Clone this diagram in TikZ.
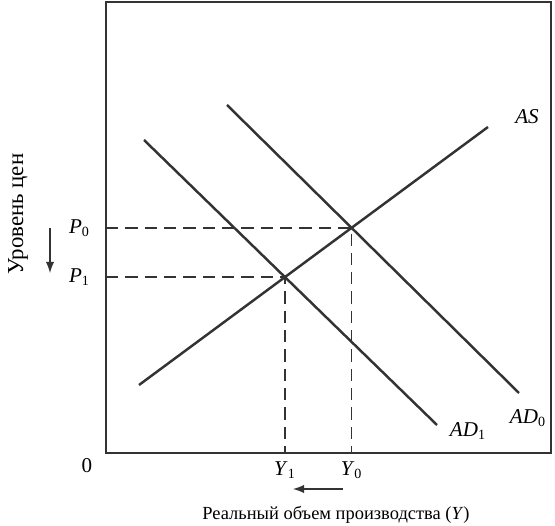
\documentclass[tikz,border=0pt]{standalone}
\usepackage{fontspec}
\setmainfont{Liberation Serif}
\begin{document}
\begin{tikzpicture}[x=0.02cm,y=-0.02cm]
\tikzset{curve/.style={line width=1.4pt, black!80},
  guide/.style={dash pattern=on 7pt off 4pt, line width=0.8pt, black!80},
  lbl/.style={font=\fontsize{12}{14}\selectfont}}
\useasboundingbox (0,0) rectangle (555,526);
% frame
\coordinate (O) at (106,453);
\coordinate (TR) at (551,2);
\draw[line width=0.8pt, black!80] (O) rectangle (TR);
% curves
\coordinate (as1) at (139,385);
\coordinate (as2) at (488,127);
\coordinate (ad01) at (227,105);
\coordinate (ad02) at (519,393);
\coordinate (ad11) at (144,140);
\coordinate (ad12) at (437,425);
\draw[curve] (as1) -- (as2);
\draw[curve] (ad01) -- (ad02);
\draw[curve] (ad11) -- (ad12);
\coordinate (E0) at (intersection of as1--as2 and ad01--ad02);
\coordinate (E1) at (intersection of as1--as2 and ad11--ad12);
\draw[guide] (E0 -| O) -- (E0) -- (E0 |- O);
\draw[guide] (E1 -| O) -- (E1) -- (E1 |- O);
% labels
\node[lbl] (las) at (527,117) {\textit{AS}};
\node[lbl] (lad0) at (528,418) {\textit{AD}\textsubscript{0}};
\node[lbl] (lad1) at (468,431) {\textit{AD}\textsubscript{1}};
\node[lbl, anchor=east] (lp0) at ([xshift=-0.2cm]E0 -| O) {\textit{P}\textsubscript{0}};
\node[lbl, anchor=east] (lp1) at ([xshift=-0.2cm]E1 -| O) {\textit{P}\textsubscript{1}};
\node[lbl, anchor=north] (ly0) at ([yshift=-0.04cm]E0 |- O) {\textit{Y}\textsubscript{0}};
\node[lbl, anchor=north] (ly1) at ([yshift=-0.04cm]E1 |- O) {\textit{Y}\textsubscript{1}};
\node[lbl] (zero) at (87,466) {0};
\node[font=\fontsize{13}{15}\selectfont, rotate=90] (yaxis) at (18,214) {Уровень цен};
\node[font=\fontsize{10.5}{12}\selectfont] (xaxis) at (336,515) {Реальный объем производства (\textit{Y})};
% shift arrows
\coordinate (pa1) at (50,228);
\coordinate (pa2) at (50,273);
\coordinate (ya1) at (343,489);
\coordinate (ya2) at (293,489);
\draw[-latex, line width=1.2pt, black!80] (pa1) -- (pa2);
\draw[-latex, line width=1.2pt, black!80] (ya1) -- (ya2);
\end{tikzpicture}
\end{document}
